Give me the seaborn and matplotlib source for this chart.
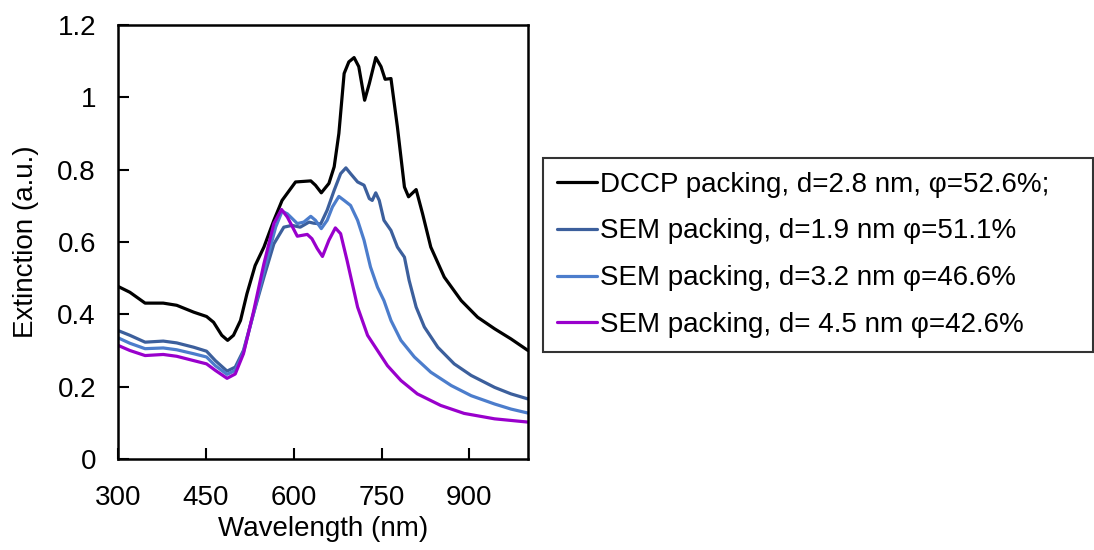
import pandas as pd
import matplotlib.pyplot as plt
import seaborn as sns

# Extinction spectra
labels = [
    "DCCP packing, d=2.8 nm, \u03c6=52.6%;",
    "SEM packing, d=1.9 nm \u03c6=51.1%",
    "SEM packing, d=3.2 nm \u03c6=46.6%",
    "SEM packing, d= 4.5 nm \u03c6=42.6%",
]
colors = ["#000000", "#3C5F9C", "#4C7DCC", "#9900CC"]

wl_dccp = [300, 320, 346, 377, 400, 429, 451, 463, 477, 487, 497, 509, 520, 534, 549,
           566, 580, 603, 629, 637, 647, 660, 669, 677, 686, 694, 703, 711, 721, 729,
           740, 749, 756, 766, 777, 789, 796, 809, 820, 834, 857, 886, 914, 943, 971, 1000]
ext_dccp = [0.477, 0.461, 0.431, 0.431, 0.425, 0.406, 0.394, 0.378, 0.342, 0.328, 0.342,
            0.383, 0.457, 0.535, 0.586, 0.660, 0.715, 0.766, 0.769, 0.757, 0.736, 0.762,
            0.808, 0.900, 1.066, 1.098, 1.110, 1.085, 0.992, 1.038, 1.110, 1.085, 1.050,
            1.052, 0.918, 0.752, 0.725, 0.745, 0.678, 0.586, 0.503, 0.438, 0.392, 0.360,
            0.332, 0.300]

wl_sem19 = [300, 320, 346, 377, 400, 429, 451, 466, 486, 500, 514, 531, 549, 566, 583,
            597, 611, 626, 634, 646, 657, 669, 680, 689, 697, 709, 720, 729, 734, 740,
            746, 754, 766, 777, 789, 797, 809, 823, 846, 874, 903, 943, 971, 1000]
ext_sem19 = [0.355, 0.342, 0.323, 0.326, 0.321, 0.309, 0.298, 0.272, 0.243, 0.254, 0.300,
             0.401, 0.503, 0.595, 0.641, 0.646, 0.641, 0.655, 0.652, 0.650, 0.688, 0.743,
             0.789, 0.805, 0.789, 0.766, 0.757, 0.720, 0.715, 0.736, 0.715, 0.660, 0.632,
             0.586, 0.558, 0.494, 0.420, 0.365, 0.309, 0.263, 0.231, 0.198, 0.180, 0.166]

wl_sem32 = [300, 320, 346, 377, 400, 429, 451, 466, 486, 500, 514, 531, 551, 569, 580,
            589, 606, 617, 629, 637, 647, 657, 666, 677, 686, 697, 709, 720, 731, 743,
            754, 766, 783, 806, 834, 869, 903, 943, 971, 1000]
ext_sem32 = [0.335, 0.320, 0.305, 0.307, 0.302, 0.291, 0.282, 0.258, 0.234, 0.245, 0.295,
             0.401, 0.531, 0.641, 0.685, 0.678, 0.651, 0.655, 0.671, 0.660, 0.637, 0.660,
             0.697, 0.726, 0.715, 0.701, 0.660, 0.605, 0.531, 0.475, 0.438, 0.383, 0.328,
             0.282, 0.240, 0.203, 0.175, 0.152, 0.138, 0.127]

wl_sem45 = [300, 320, 346, 377, 400, 429, 451, 466, 486, 500, 514, 531, 549, 566, 579,
            589, 606, 623, 631, 640, 649, 660, 671, 680, 691, 709, 726, 743, 760, 783,
            811, 851, 891, 943, 1000]
ext_sem45 = [0.314, 0.300, 0.286, 0.289, 0.284, 0.272, 0.263, 0.245, 0.223, 0.235, 0.291,
             0.406, 0.540, 0.651, 0.690, 0.669, 0.616, 0.621, 0.609, 0.582, 0.560, 0.605,
             0.639, 0.623, 0.549, 0.420, 0.342, 0.300, 0.258, 0.217, 0.180, 0.148, 0.126,
             0.111, 0.102]

xticks = [300, 450, 600, 750, 900]
yticks = [0, 0.2, 0.4, 0.6, 0.8, 1, 1.2]
ytick_labels = ["0", "0.2", "0.4", "0.6", "0.8", "1", "1.2"]

# long-format table for seaborn
frames = []
for lab, wl, ext in zip(labels,
                        [wl_dccp, wl_sem19, wl_sem32, wl_sem45],
                        [ext_dccp, ext_sem19, ext_sem32, ext_sem45]):
    frames.append(pd.DataFrame({"wavelength": wl, "extinction": ext, "series": lab}))
df = pd.concat(frames, ignore_index=True)

sns.set_style("ticks")
plt.rcParams["font.family"] = ["Liberation Sans", "DejaVu Sans"]
plt.rcParams["text.color"] = "black"
plt.rcParams["axes.labelcolor"] = "black"

fig = plt.figure(figsize=(10.94, 5.5), dpi=100)
ax = fig.add_axes([0.108, 0.1655, 0.3746, 0.789])

sns.lineplot(data=df, x="wavelength", y="extinction", hue="series",
             hue_order=labels, palette=colors, linewidth=2.3, ax=ax,
             sort=False, estimator=None)

ax.set_xlim(300, 1000)
ax.set_ylim(0, 1.2)
ax.set_xticks(xticks)
ax.set_xticklabels([str(t) for t in xticks])
ax.set_yticks(yticks)
ax.set_yticklabels(ytick_labels)
ax.tick_params(axis="both", direction="in", length=8, width=1.5,
               labelsize=20, colors="black", bottom=True, left=True,
               top=False, right=False)
ax.tick_params(axis="x", pad=19)
ax.tick_params(axis="y", pad=16)
ax.set_xlabel("Wavelength (nm)", fontsize=20, labelpad=3)
ax.set_ylabel("Extinction (a.u.)", fontsize=20, labelpad=13)
for sp in ax.spines.values():
    sp.set_visible(True)
    sp.set_color("black")
    sp.set_linewidth(1.8)

# legend box stretched to the right edge of the figure
handles, labs = ax.get_legend_handles_labels()
ax.legend(handles, labs, loc="lower left",
          bbox_to_anchor=(0.496, 0.36, 0.503, 0.2), mode="expand",
          bbox_transform=fig.transFigure, fontsize=20, frameon=True,
          fancybox=False, edgecolor="black", handlelength=1.45,
          handletextpad=0.1, labelspacing=0.75, borderpad=0.5,
          borderaxespad=0)
ax.get_legend().get_frame().set_linewidth(1.5)

fig.savefig("out.png", dpi=100)
